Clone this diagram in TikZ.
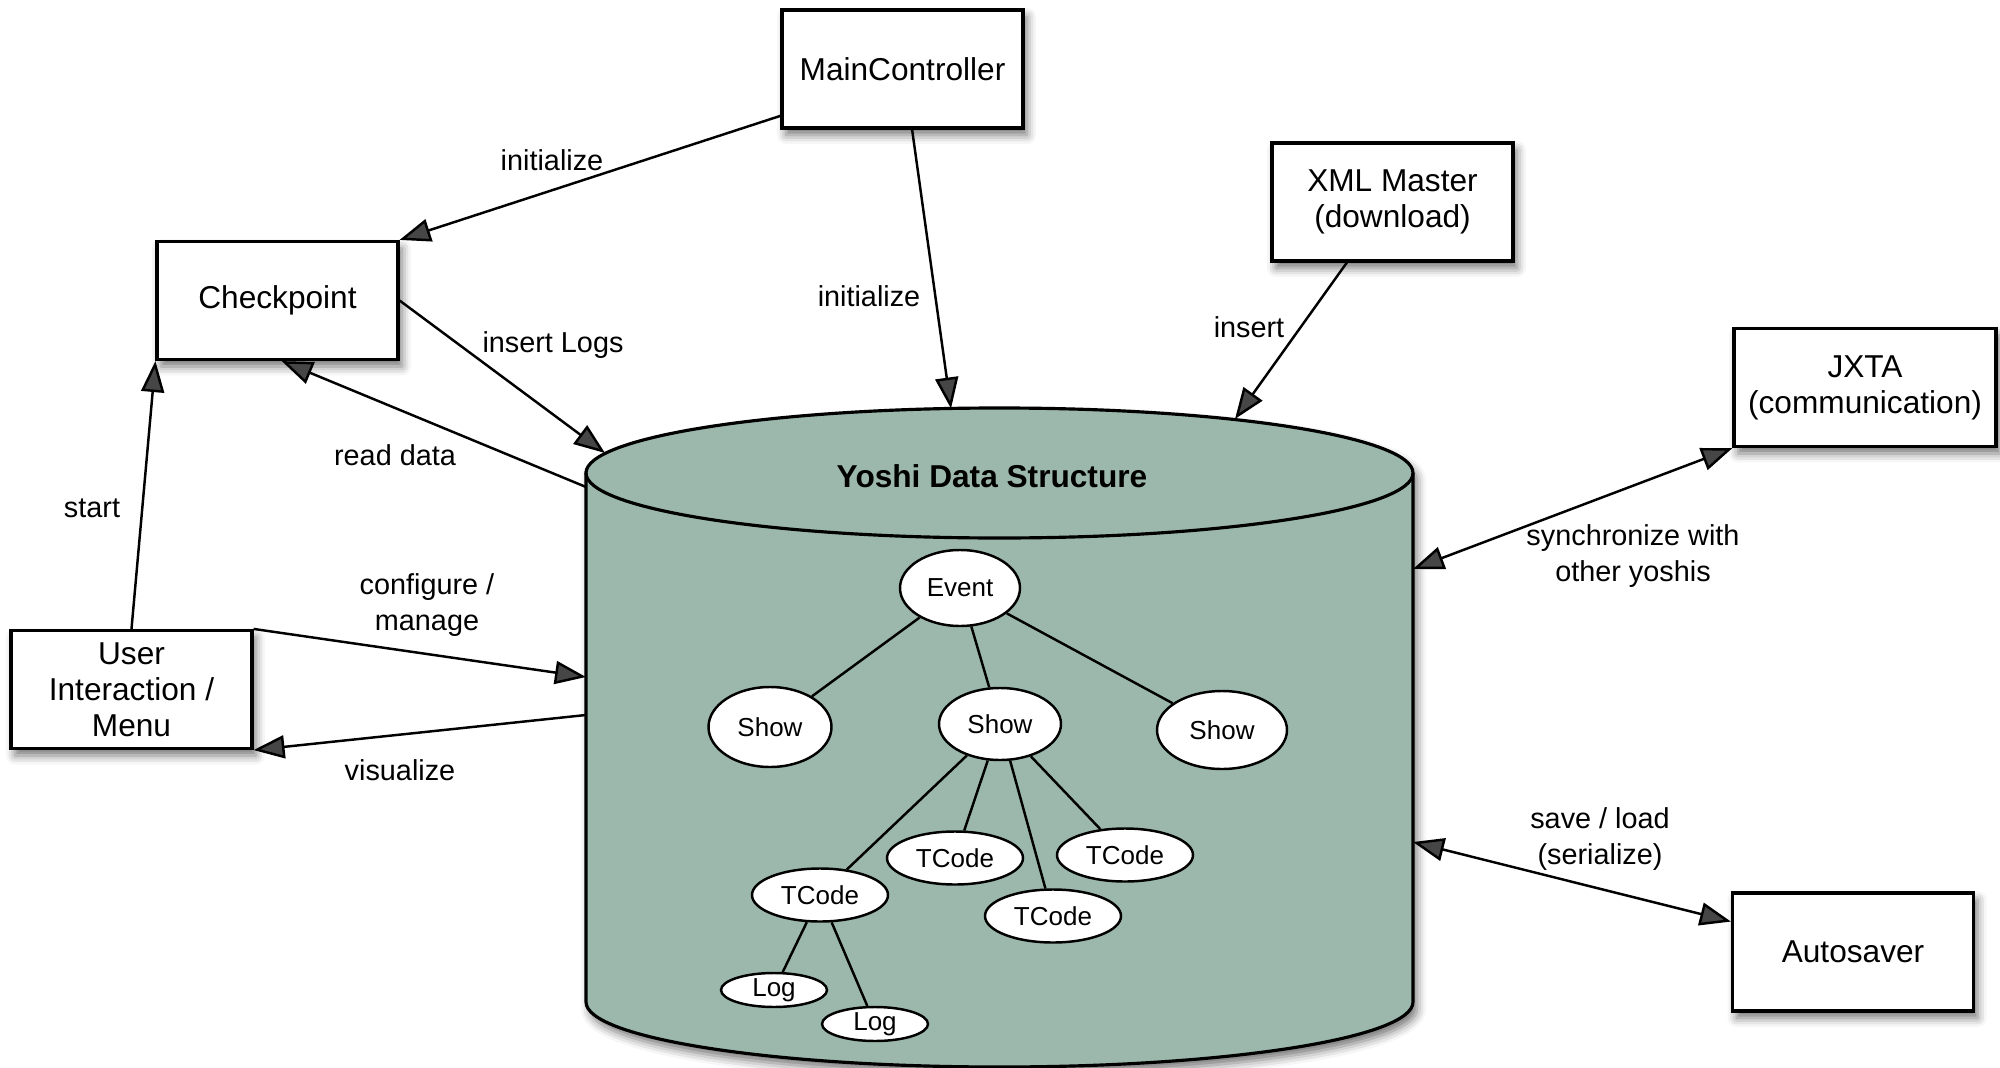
\documentclass[tikz,border=0pt]{standalone}
\usepackage{fontspec}
\setmainfont{Liberation Sans}
\usetikzlibrary{arrows.meta, positioning, shapes.geometric, shadows.blur}

\definecolor{storegreen}{RGB}{156,184,172}

\begin{document}
\begin{tikzpicture}[
    >={Triangle[length=3.1mm,width=2.3mm]}, line width=0.7pt,
    softshadow/.style={blur shadow={shadow xshift=0.4mm, shadow yshift=-0.7mm,
        shadow blur radius=0.9mm, shadow opacity=55}},
    box/.style={rectangle, draw, fill=white, line width=0.9pt, softshadow,
        minimum width=2.41cm, minimum height=1.18cm, align=center,
        font=\fontsize{9}{10.2}\selectfont},
    item/.style={ellipse, draw, fill=white, line width=0.7pt, inner sep=0pt,
        font=\fontsize{7.4}{8}\selectfont},
    tcode/.style={item, minimum width=1.36cm, minimum height=0.53cm},
    logitem/.style={item, minimum width=1.06cm, minimum height=0.34cm},
    lbl/.style={align=center, font=\fontsize{8.2}{10}\selectfont}]

    \useasboundingbox (0,0) rectangle (20,10.67);

    % Data store
    \draw[fill=storegreen, line width=0.9pt, softshadow]
        (5.86,5.94) -- (5.86,0.65)
        arc[start angle=180, end angle=360, x radius=4.135, y radius=0.65]
        -- (14.13,5.94)
        arc[start angle=0, end angle=180, x radius=4.135, y radius=0.65] -- cycle;
    \draw[line width=0.9pt] (5.86,5.94)
        arc[start angle=180, end angle=360, x radius=4.135, y radius=0.65];
    \node[font=\bfseries\fontsize{9}{10}\selectfont] (title) at (9.92,5.91) {Yoshi Data Structure};

    % Points on the store
    \coordinate (ds-main) at (9.51,6.585);
    \coordinate (ds-xml)  at (12.35,6.48);
    \coordinate (ds-logs) at (6.05,6.14);
    \coordinate (ds-read) at (5.86,5.80);
    \coordinate (ds-conf) at (5.86,3.90);
    \coordinate (ds-vis)  at (5.86,3.52);
    \coordinate (ds-jxta) at (14.13,4.98);
    \coordinate (ds-auto) at (14.13,2.25);

    % Define components
    \node[box] (main)  at (9.025,9.98) {MainController};
    \node[box] (check) at (2.775,7.665) {Checkpoint};
    \node[box] (xml)   at (13.925,8.65) {XML Master\\(download)};
    \node[box, minimum width=2.62cm] (jxta) at (18.65,6.795) {JXTA\\(communication)};
    \node[box] (user)  at (1.315,3.775) {User\\Interaction /\\Menu};
    \node[box] (auto)  at (18.53,1.15) {Autosaver};

    % Tree inside the store
    \node[item, minimum width=1.20cm, minimum height=0.76cm] (event) at (9.60,4.79) {Event};
    \node[item, minimum width=1.23cm, minimum height=0.80cm] (showL) at (7.70,3.40) {Show};
    \node[item, minimum width=1.22cm, minimum height=0.72cm] (showM) at (10.00,3.43) {Show};
    \node[item, minimum width=1.30cm, minimum height=0.78cm] (showR) at (12.22,3.37) {Show};
    \node[tcode] (tcL) at (8.20,1.72) {TCode};
    \node[tcode] (tcM) at (9.55,2.09) {TCode};
    \node[tcode] (tcR) at (11.25,2.12) {TCode};
    \node[tcode] (tcB) at (10.53,1.51) {TCode};
    \node[logitem] (log1) at (7.74,0.77) {Log};
    \node[logitem] (log2) at (8.75,0.43) {Log};

    \path[line width=0.7pt]
        (event) edge (showL) edge (showM) edge (showR)
        (showM) edge (tcL) edge (tcM) edge (tcB) edge (tcR)
        (tcL) edge (log1) edge (log2);

    % Draw connections
    \draw[->] (main.201) -- (check.north east);
    \draw[->] (main.279) -- (ds-main);
    \draw[->] (xml.233) -- (ds-xml);
    \draw[->] (check.east) -- (ds-logs);
    \draw[->] (ds-read) -- (check.274);
    \draw[->] (user.north) -- (check.south west);
    \draw[->] (user.north east) -- (ds-conf);
    \draw[->] (ds-vis) -- (user.south east);
    \draw[<->] (ds-jxta) -- (jxta.south west);
    \draw[<->] (ds-auto) -- (auto.166);

    % Labels
    \node[lbl] (l-init1) at (5.52,9.07) {initialize};
    \node[lbl] (l-init2) at (8.69,7.71) {initialize};
    \node[lbl] (l-insert) at (12.49,7.40) {insert};
    \node[lbl] (l-logs) at (5.53,7.22) {insert Logs};
    \node[lbl] (l-read) at (3.95,6.12) {read data};
    \node[lbl] (l-start) at (0.92,5.59) {start};
    \node[lbl] (l-conf) at (4.27,4.62) {configure /\\manage};
    \node[lbl] (l-vis) at (4.00,2.97) {visualize};
    \node[lbl] (l-sync) at (16.33,5.11) {synchronize with\\other yoshis};
    \node[lbl] (l-save) at (16.00,2.28) {save / load\\(serialize)};

\end{tikzpicture}
\end{document}
